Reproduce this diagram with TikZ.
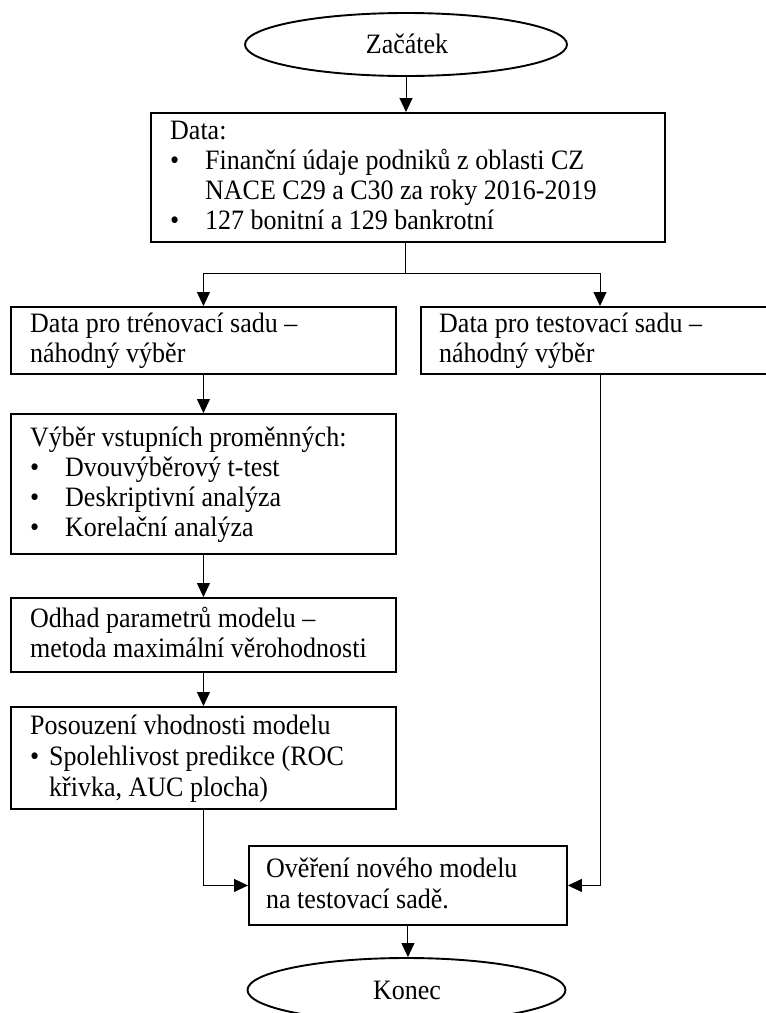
\documentclass[tikz,border=0pt]{standalone}
\usepackage{fontspec}
\setmainfont{Liberation Serif}
\usetikzlibrary{arrows.meta,shapes.geometric,calc}
\begin{document}
\begin{tikzpicture}[x=1pt,y=-1pt,
  box/.style={draw, line width=1.9pt, rectangle, inner sep=0pt, anchor=north west},
  ell/.style={draw, line width=1.9pt, ellipse, inner sep=0pt},
  lab/.style={inner sep=0pt, font=\fontsize{26}{30}\selectfont, yscale=1.08, transform shape},
  txt/.style={anchor=base west, inner sep=0pt, font=\fontsize{26}{30}\selectfont, yscale=1.08, transform shape},
  conn/.style={line width=1pt, -{Triangle[length=14pt,width=13pt]}},
  wire/.style={line width=1pt}]
\useasboundingbox (0,0) rectangle (766,1013);
\clip (0,0) rectangle (766,1013);

% shapes
\node[ell, minimum width=322pt, minimum height=63pt] (start) at (406,44.5) {};
\node[box, minimum width=514pt, minimum height=129pt] (data) at (150,112) {};
\node[box, minimum width=385pt, minimum height=67pt] (train) at (10,306) {};
\node[box, minimum width=385pt, minimum height=67pt] (test) at (420,306) {};
\node[box, minimum width=385pt, minimum height=140pt] (select) at (10,413) {};
\node[box, minimum width=385pt, minimum height=74pt] (estim) at (10,597) {};
\node[box, minimum width=385pt, minimum height=102pt] (assess) at (10,706) {};
\node[box, minimum width=318pt, minimum height=79pt] (check) at (248,845) {};
\node[ell, minimum width=318pt, minimum height=64pt] (stop) at (406.5,990) {};

% texts
\node[txt, anchor=base] (startt) at (407,53) {Začátek};
\node[txt, anchor=base] (stopt) at (407,999) {Konec};

\node[txt] (d1) at (170,139) {Data:};
\node[txt] (d2b) at (170,169) {•};
\node[txt] (d2) at (205,169) {Finanční údaje podniků z oblasti CZ};
\node[txt] (d3) at (205,199) {NACE C29 a C30 za roky 2016-2019};
\node[txt] (d4b) at (170,229) {•};
\node[txt] (d4) at (205,229) {127 bonitní a 129 bankrotní};

\node[txt] (tr1) at (30,332) {Data pro trénovací sadu –};
\node[txt] (tr2) at (30,362) {náhodný výběr};
\node[txt] (te1) at (439,332) {Data pro testovací sadu –};
\node[txt] (te2) at (439,362) {náhodný výběr};

\node[txt] (s1) at (30,446) {Výběr vstupních proměnných:};
\node[txt] (s2b) at (30,476) {•};
\node[txt] (s2) at (65,476) {Dvouvýběrový t-test};
\node[txt] (s3b) at (30,506) {•};
\node[txt] (s3) at (65,506) {Deskriptivní analýza};
\node[txt] (s4b) at (30,536) {•};
\node[txt] (s4) at (65,536) {Korelační analýza};

\node[txt] (e1) at (30,627) {Odhad parametrů modelu –};
\node[txt] (e2) at (30,657) {metoda maximální věrohodnosti};

\node[txt] (a1) at (30,734) {Posouzení vhodnosti modelu};
\node[txt] (a2b) at (30,765) {•};
\node[txt] (a2) at (49,765) {Spolehlivost predikce (ROC};
\node[txt] (a3) at (49,796) {křivka, AUC plocha)};

\node[txt] (c1) at (266,877) {Ověření nového modelu};
\node[txt] (c2) at (266,908) {na testovací sadě.};

% connectors
\coordinate (split) at (405,273);
\coordinate (tx) at (600,0);
\draw[conn] (start.south) -- (start.south |- data.north);
\draw[wire] (split |- data.south) -- (split);
\draw[conn] (split) -| (train.north);
\draw[conn] (split) -| (tx |- test.north);
\draw[conn] (train.south) -- (select.north);
\draw[conn] (select.south) -- (estim.north);
\draw[conn] (estim.south) -- (assess.north);
\draw[conn] (assess.south) |- (check.west);
\draw[conn] (tx |- test.south) |- (check.east);
\draw[conn] (check.south) -- (check.south |- stop.north);
\end{tikzpicture}
\end{document}
